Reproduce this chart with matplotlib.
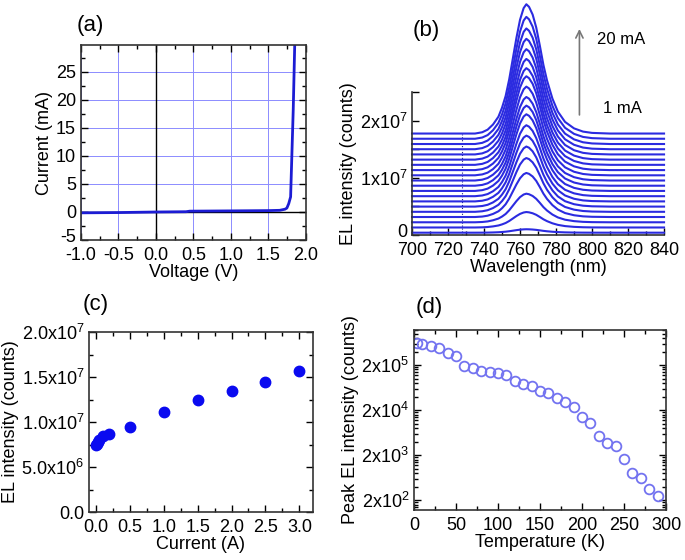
import numpy as np
import matplotlib
matplotlib.use("Agg")
import matplotlib.pyplot as plt
import matplotlib.transforms as mtransforms
from matplotlib.ticker import MultipleLocator, FixedLocator

plt.rcParams['font.family'] = ['Liberation Sans', 'DejaVu Sans']
plt.rcParams['font.size'] = 13
plt.rcParams['axes.unicode_minus'] = False
plt.rcParams['mathtext.fontset'] = 'custom'
plt.rcParams['mathtext.rm'] = 'Liberation Sans'
plt.rcParams['mathtext.default'] = 'regular'

# (a) I-V curve
voltage = [-1.0, -0.5, 0.0, 0.4, 0.45, 1.0, 1.5, 1.65, 1.72, 1.745, 1.77, 1.795, 1.83, 1.85]
current_ma = [-0.15, -0.1, 0.0, 0.05, 0.15, 0.2, 0.25, 0.3, 0.5, 0.7, 1.5, 2.7, 18.3, 30.0]

# (b) EL spectra, 1 mA ... 20 mA, stacked
shape_wl = [700, 728, 735, 739, 742, 745, 748, 750, 752, 754, 756, 758, 760, 762, 763.5, 765, 767,
            769, 771, 773, 775, 778, 781, 785, 790, 795, 800, 810, 840]
shape_rel = [0, 0, 0, 0.01, 0.03, 0.07, 0.13, 0.2, 0.29, 0.42, 0.58, 0.74, 0.88, 0.97, 1.0, 0.98, 0.92,
             0.82, 0.68, 0.53, 0.41, 0.27, 0.17, 0.09, 0.04, 0.015, 0.005, 0, 0]
baseline = [0.04, 0.131, 0.222, 0.314, 0.405, 0.496, 0.587, 0.678, 0.770, 0.861,
            0.952, 1.043, 1.134, 1.226, 1.317, 1.408, 1.499, 1.590, 1.682, 1.773]  # x1e7
peak_amp = [0.06, 0.27, 0.50, 0.77, 0.94, 1.05, 1.15, 1.24, 1.34, 1.40,
            1.46, 1.55, 1.64, 1.69, 1.76, 1.84, 1.93, 2.02, 2.13, 2.26]  # x1e7
dotted_wl = 728

# (c) EL intensity vs current
cur_a = [0.01, 0.02, 0.03, 0.05, 0.1, 0.2, 0.5, 1.0, 1.5, 2.0, 2.5, 3.0]
el_int = [7.4e6, 7.6e6, 7.8e6, 8.0e6, 8.45e6, 8.7e6, 9.5e6, 1.11e7, 1.24e7, 1.34e7, 1.445e7, 1.57e7]

# (d) peak EL vs temperature
temp_k = [4, 10, 20, 30, 40, 50, 60, 70, 80, 90, 100, 110, 120, 130, 140, 150, 160, 170, 180,
          190, 200, 210, 220, 230, 240, 250, 260, 270, 280, 290]
peak_el = [6.06e5, 5.76e5, 5.38e5, 4.86e5, 3.63e5, 3.22e5, 1.93e5, 1.69e5, 1.45e5, 1.37e5,
           1.31e5, 1.22e5, 8.8e4, 7.7e4, 6.8e4, 5.4e4, 4.7e4, 3.8e4, 2.96e4, 2.37e4,
           1.42e4, 1.05e4, 5.3e3, 3.8e3, 3.2e3, 1.69e3, 8.2e2, 6.4e2, 3.6e2, 2.45e2]


def style_ticks(ax, **kw):
    ax.tick_params(which='both', direction='in', width=1, **kw)
    ax.tick_params(which='major', length=5)
    ax.tick_params(which='minor', length=3)
    ax.tick_params(axis='x', pad=5)
    for s in ax.spines.values():
        s.set_color('#333333')
        s.set_linewidth(1.2)


def lift_first_ylabel(fig, ax):
    # nudge the lowest y tick label up so it clears the x labels
    lab = ax.get_yticklabels()[0]
    lab.set_transform(lab.get_transform() + mtransforms.ScaledTranslation(0, 3 / 72, fig.dpi_scale_trans))


fig = plt.figure(figsize=(6.85, 5.6), dpi=100)

# ---- (a)
ax = fig.add_axes([0.1182, 0.5714, 0.3285, 0.3482])
ax.grid(True, color='#8c8cff', lw=0.7)
ax.axhline(0, color='black', lw=1)
ax.axvline(0, color='black', lw=1)
ax.plot(voltage, current_ma, color='#1c1cd4', lw=2)
ax.set_xlim(-1, 2)
ax.set_ylim(-5, 29.8)
ax.set_xticks(np.arange(-1, 2.01, 0.5))
ax.set_yticks(np.arange(-5, 26, 5))
ax.xaxis.set_minor_locator(MultipleLocator(0.25))
ax.yaxis.set_minor_locator(MultipleLocator(2.5))
ax.set_xlabel('Voltage (V)', labelpad=0)
ax.set_ylabel('Current (mA)', labelpad=2)
style_ticks(ax, top=True, right=True)
ax.set_axisbelow(True)
lift_first_ylabel(fig, ax)

# ---- (b)
ax = fig.add_axes([0.6015, 0.5804, 0.3679, 0.2554])
ax.vlines(dotted_wl, 0, baseline[-1] * 1e7, color='#202080', lw=0.8, linestyles=':')
for b, a in zip(baseline, peak_amp):
    ax.plot(shape_wl, (b + a * np.array(shape_rel)) * 1e7, color='#2b2be0', lw=1.5, clip_on=False)
ax.set_xlim(700, 840)
ax.set_ylim(0, 2.5e7)
ax.set_xticks(np.arange(700, 841, 20))
ax.xaxis.set_minor_locator(MultipleLocator(10))
ax.set_yticks([0, 1e7, 2e7])
ax.set_yticklabels(['0', r'1x10$^{7}$', r'2x10$^{7}$'])
ax.yaxis.set_minor_locator(FixedLocator([0.5e7, 1.5e7, 2.5e7]))
ax.spines['top'].set_visible(False)
ax.spines['right'].set_visible(False)
ax.set_xlabel('Wavelength (nm)', labelpad=0)
ax.set_ylabel('EL intensity (counts)', labelpad=2)
style_ticks(ax)
ax.tick_params(which='minor', axis='y', length=5)
lift_first_ylabel(fig, ax)
ax.annotate('', xy=(793, 3.65e7), xytext=(793, 2.05e7),
            arrowprops=dict(arrowstyle='->', color='#777777', lw=1.2), annotation_clip=False)
ax.text(816, 3.42e7, '20 mA', ha='center', va='center', fontsize=12)
ax.text(817, 2.21e7, '1 mA', ha='center', va='center', fontsize=12)

# ---- (c)
ax = fig.add_axes([0.1299, 0.0857, 0.327, 0.3214])
ax.plot(cur_a, el_int, 'o', color='#0a0af0', ms=7.5, clip_on=False)
ax.set_xlim(-0.1, 3.2)
ax.set_ylim(0, 2e7)
ax.set_xticks(np.arange(0, 3.01, 0.5))
ax.xaxis.set_minor_locator(MultipleLocator(0.25))
ax.set_yticks([0, 5e6, 1e7, 1.5e7, 2e7])
ax.set_yticklabels(['0.0', r'5.0x10$^{6}$', r'1.0x10$^{7}$', r'1.5x10$^{7}$', r'2.0x10$^{7}$'])
ax.yaxis.set_minor_locator(MultipleLocator(2.5e6))
ax.set_xlabel('Current (A)', labelpad=0)
ax.set_ylabel('EL intensity (counts)', labelpad=2)
style_ticks(ax, top=True, right=True)

# ---- (d)
ax = fig.add_axes([0.6044, 0.0893, 0.3679, 0.3214])
ax.semilogy(temp_k, peak_el, 'o', mfc='none', mec='#7373f0', ms=7, mew=1.3)
ax.set_xlim(0, 300)
ax.set_ylim(122, 1.2e6)
ax.set_xticks(np.arange(0, 301, 50))
ax.xaxis.set_minor_locator(MultipleLocator(25))
ax.yaxis.set_major_locator(FixedLocator([2e2, 2e3, 2e4, 2e5]))
ax.set_yticklabels([r'2x10$^{2}$', r'2x10$^{3}$', r'2x10$^{4}$', r'2x10$^{5}$'])
minors = [2 * 10 ** e * k for e in range(1, 6) for k in range(2, 10)]
ax.yaxis.set_minor_locator(FixedLocator(minors))
ax.yaxis.set_minor_formatter(plt.NullFormatter())
ax.set_xlabel('Temperature (K)', labelpad=0)
ax.set_ylabel('Peak EL intensity (counts)', labelpad=2)
style_ticks(ax, top=True, right=True)

fig.text(0.1314, 0.9536, '(a)', fontsize=16, ha='center', va='center')
fig.text(0.622, 0.946, '(b)', fontsize=16, ha='center', va='center')
fig.text(0.139, 0.457, '(c)', fontsize=16, ha='center', va='center')
fig.text(0.627, 0.45, '(d)', fontsize=16, ha='center', va='center')

fig.savefig('out.png', dpi=100)
